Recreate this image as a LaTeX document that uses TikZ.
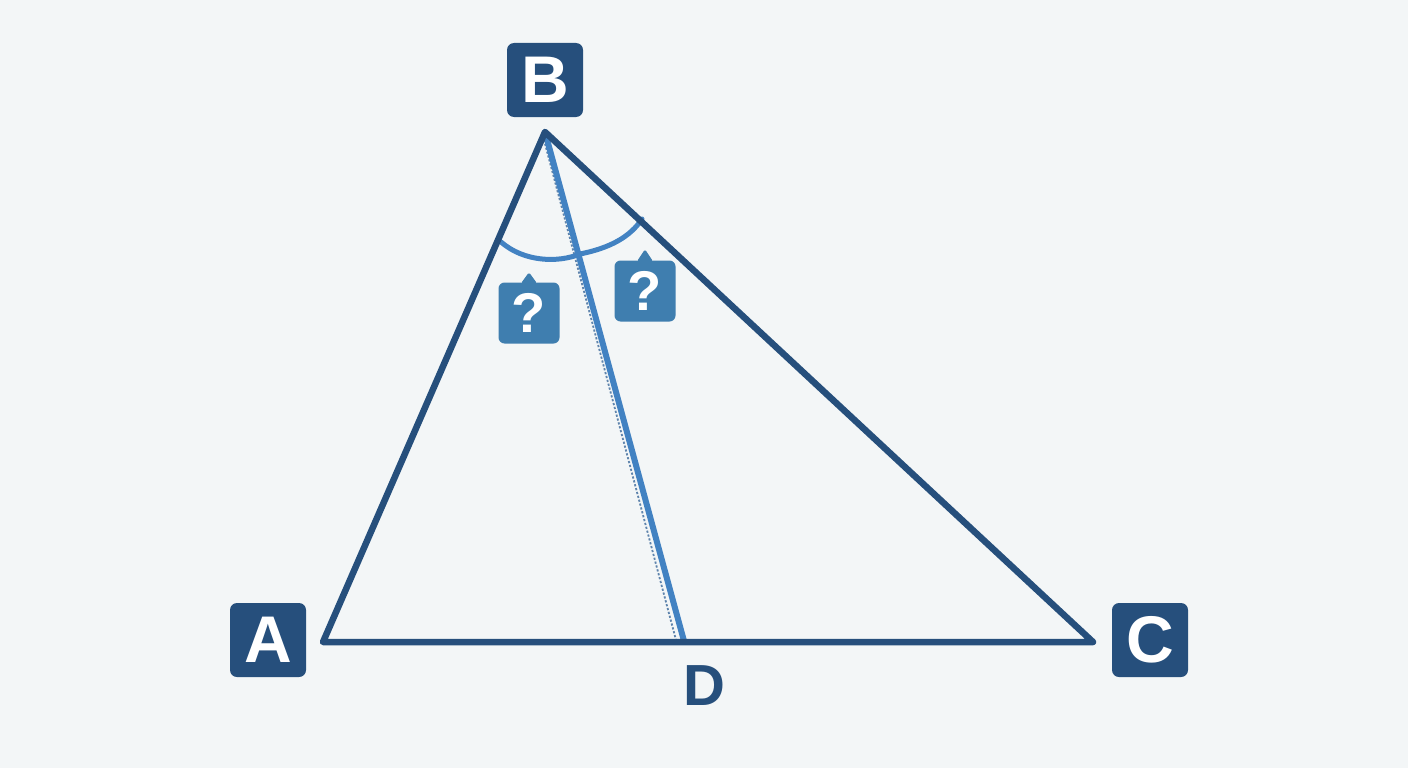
\documentclass[tikz,border=0pt]{standalone}
\usepackage{fontspec}
\setmainfont{Liberation Sans}
\usetikzlibrary{calc}
\definecolor{bg}{HTML}{F3F6F7}
\definecolor{dk}{HTML}{264F7C}
\definecolor{lb}{HTML}{4282C2}
\definecolor{qb}{HTML}{3F7EAF}
\definecolor{dotc}{HTML}{5E84AD}
\begin{document}
\begin{tikzpicture}[x=1pt,y=-1pt,
  vbox/.style={fill=dk, text=white, rounded corners=7pt, minimum width=76pt, minimum height=74pt, inner sep=0pt, font=\fontsize{66}{66}\selectfont\bfseries},
  qbox/.style={fill=qb, text=white, rounded corners=6pt, minimum width=61pt, minimum height=61pt, inner sep=0pt, font=\fontsize{56}{56}\selectfont\bfseries},
  side/.style={draw=dk, line width=6.5pt, line join=round, line cap=round},
  ced/.style={draw=lb, line width=6pt, line cap=round},
  anglearc/.style={draw=lb, line width=5pt, line cap=round},
  dotl/.style={draw=dotc, line width=1.8pt, dash pattern=on 2.2pt off 1.8pt}
]
\fill[bg] (0,0) rectangle (1408,768);
\useasboundingbox (0,0) rectangle (1408,768);

\coordinate (A) at (323,642);
\coordinate (B) at (545,132);
\coordinate (C) at (1093,642);
\coordinate (D) at (684,641);
\coordinate (Bd) at (544,140);
\coordinate (Dd) at (676,640);
\coordinate (a1) at (501,242);
\coordinate (a2) at (580,254);
\coordinate (a3) at (642,219);

% dotted guide
\draw[dotl] (Bd) -- (Dd);
% angle arcs
\draw[anglearc] (a1) .. controls (524,262) and (558,263) .. (a2);
\draw[anglearc] (a2) .. controls (610,248) and (630,237) .. (a3);
% cevian BD
\draw[ced] (B) -- (D);
% triangle
\draw[side] (A) -- (B) -- (C) -- cycle;

% labels
\node[vbox] (lB) at (545,80) {B};
\node[vbox] (lA) at (268,640) {A};
\node[vbox] (lC) at (1150,640) {C};
\node[text=dk, font=\fontsize{58}{58}\selectfont\bfseries, inner sep=0pt] (lD) at (704,686) {D};

% question boxes
\node[qbox] (q1) at (529,313) {?};
\node[qbox] (q2) at (645,291) {?};
\fill[qb, rounded corners=1.5pt] ($(q1.north)+(-8,1)$) -- ($(q1.north)+(0,-10)$) -- ($(q1.north)+(8,1)$) -- cycle;
\fill[qb, rounded corners=1.5pt] ($(q2.north)+(-8,1)$) -- ($(q2.north)+(0,-11)$) -- ($(q2.north)+(8,1)$) -- cycle;
\end{tikzpicture}
\end{document}
